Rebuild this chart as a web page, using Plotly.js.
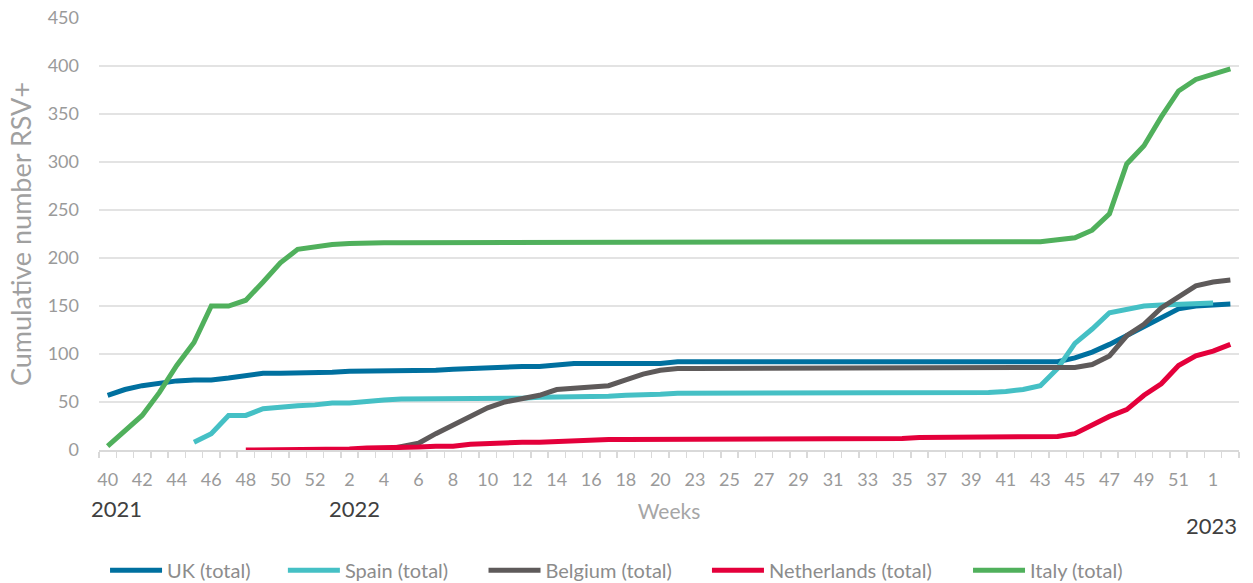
<!DOCTYPE html>
<html>
<head>
<meta charset="utf-8">
<script src="https://cdn.plot.ly/plotly-3.0.1.min.js"></script>
<style>
  html, body { margin: 0; padding: 0; background: #ffffff; }
  #chart { width: 1253px; height: 583px; }
</style>
</head>
<body>
<div id="chart"></div>
<script>
// Week labels: 2021 wk40-52, 2022 wk1-52 (one week absent between 20 and 23), 2023 wk1-2
const weeks = [40,41,42,43,44,45,46,47,48,49,50,51,52,
  1,2,3,4,5,6,7,8,9,10,11,12,13,14,15,16,17,18,19,20,21,
  23,24,25,26,27,28,29,30,31,32,33,34,35,36,37,38,39,40,41,42,43,44,45,46,47,48,49,50,51,52,
  1,2];

const yearLabels = ["2021", "2022", "2023"];

const uk = [57,63,67,70,72,73,73,75,78,80,80,80,80,81,82,82,82,82,82,83,84,85,85,86,87,87,89,90,90,90,90,90,90,92,
  92,92,92,92,92,92,92,92,92,92,92,92,92,92,92,92,92,92,92,92,92,92,
  96,102,110,119,128,138,147,150,151,152];

const spain = [null,null,null,null,null,
  8,17,36,36,43,45,46,47,49,49,51,52,53,53,53,53,53,54,54,54,55,55,55,56,56,57,57,58,59,
  59,59,59,59,59,59,59,59,59,59,59,59,59,
  60,60,60,60,60,
  61,63,67,85,111,126,143,147,150,151,152,153,153,null];

const belgium = [null,null,null,null,null,null,null,null,null,null,null,null,null,null,null,null,
  0,4,7,17,26,34,44,50,54,57,63,64,65,67,73,79,83,85,
  85,85,85,85,85,85,85,85,85,85,85,85,85,85,85,85,85,85,85,85,85,85,
  86,89,98,119,131,148,159,171,175,177];

const netherlands = [null,null,null,null,null,null,null,null,
  0,0,1,1,1,1,1,2,2,3,3,4,4,6,7,7,8,8,9,9,
  11,11,11,11,11,11,11,11,
  12,12,12,12,12,12,12,12,12,12,12,
  13,13,13,13,13,13,13,13,
  14,17,26,35,42,57,69,88,98,103,110];

const italy = [4,20,36,60,88,112,150,150,156,175,195,209,212,214,215,
  216,216,216,216,216,216,216,216,216,216,216,216,216,216,216,216,216,216,216,216,
  216,216,216,216,216,216,216,216,216,216,216,216,216,216,216,216,216,216,216,
  217,219,221,229,246,298,317,347,374,386,391,397];

const seriesNames = ["UK (total)", "Spain (total)", "Belgium (total)", "Netherlands (total)", "Italy (total)"];
const seriesColors = ["#00709f", "#45c0c5", "#5e5a5a", "#e4003b", "#50b05c"];
const seriesData = [uk, spain, belgium, netherlands, italy];

const xIdx = weeks.map((w, i) => i);
const evenIdx = xIdx.filter(i => i % 2 === 0);
const boundaries = xIdx.map(i => i - 0.5).concat([xIdx.length - 0.5]);

const legendIds = ["legend", "legend2", "legend3", "legend4", "legend5"];
const legendX = [0.0053, 0.1613, 0.3373, 0.5333, 0.7623];

const traces = seriesData.map((vals, k) => ({
  type: "scatter",
  mode: "lines",
  name: seriesNames[k],
  legend: legendIds[k],
  x: xIdx,
  y: vals,
  line: { color: seriesColors[k], width: 5 },
  connectgaps: false,
  hoverinfo: "x+y+name"
}));

const FONT = "Lato, 'Open Sans', sans-serif";

const layout = {
  width: 1253,
  height: 583,
  margin: { l: 99, r: 14, t: 18, b: 133, autoexpand: false },
  paper_bgcolor: "#ffffff",
  plot_bgcolor: "#ffffff",
  font: { family: FONT, color: "#9a9a9a", size: 18 },
  showlegend: true,
  xaxis: {
    range: [-0.5, weeks.length - 0.5],
    tickmode: "array",
    tickvals: evenIdx,
    ticktext: evenIdx.map(i => String(weeks[i])),
    ticks: "",
    ticklabelstandoff: 12,
    tickfont: { family: FONT, size: 18, color: "#9a9a9a" },
    showgrid: false,
    zeroline: false,
    showline: true,
    linecolor: "#d9d9d9",
    linewidth: 2,
    minor: {
      tickmode: "array",
      tickvals: boundaries,
      ticks: "outside",
      ticklen: 6,
      tickwidth: 1.5,
      tickcolor: "#d9d9d9",
      showgrid: false
    },
    fixedrange: true,
    title: {
      text: "Weeks",
      font: { family: FONT, size: 21, color: "#a6a6a6" },
      standoff: 16
    }
  },
  yaxis: {
    range: [0, 450],
    tickmode: "linear",
    tick0: 0,
    dtick: 50,
    ticks: "",
    ticklabelstandoff: 19,
    tickfont: { family: FONT, size: 18, color: "#9a9a9a" },
    showgrid: true,
    gridcolor: "#e3e3e3",
    gridwidth: 2,
    zeroline: false,
    showline: false,
    fixedrange: true,
    title: {
      text: "Cumulative number RSV+",
      font: { family: FONT, size: 27, color: "#a0a0a0" },
      standoff: 8
    }
  },
  annotations: [
    { text: yearLabels[0], x: 0.5, xref: "x", y: -0.135, yref: "paper",
      showarrow: false, xanchor: "center", yanchor: "middle",
      font: { family: FONT, size: 22, color: "#404040" } },
    { text: yearLabels[1], x: 14.3, xref: "x", y: -0.135, yref: "paper",
      showarrow: false, xanchor: "center", yanchor: "middle",
      font: { family: FONT, size: 22, color: "#404040" } },
    { text: yearLabels[2], x: 63.9, xref: "x", y: -0.174, yref: "paper",
      showarrow: false, xanchor: "center", yanchor: "middle",
      font: { family: FONT, size: 22, color: "#404040" } }
  ]
};

legendIds.forEach((id, k) => {
  layout[id] = {
    orientation: "h",
    x: legendX[k], xanchor: "left",
    y: -0.2785, yanchor: "middle",
    font: { family: FONT, size: 20, color: "#8c8c8c" },
    itemwidth: 52,
    bgcolor: "rgba(0,0,0,0)"
  };
});

Plotly.newPlot("chart", traces, layout, { displayModeBar: false, staticPlot: true });
</script>
</body>
</html>
